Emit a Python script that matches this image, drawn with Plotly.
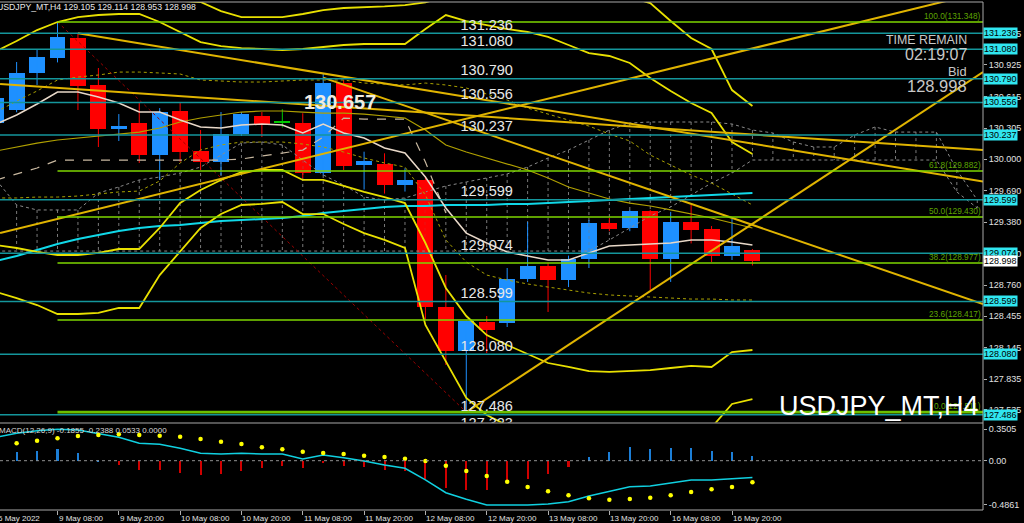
import plotly.graph_objects as go

# ---------------- data ----------------
bar_index = list(range(-3, 35))  # 0 = 9 May 08:00, H4 bars

open_ = [130.354, 130.482, 130.846, 130.993, 131.190, 130.728, 130.295, 130.354, 130.039, 130.472,
         130.079, 129.971, 130.246, 130.423, 130.357, 130.351, 129.859, 130.750, 129.938, 129.951,
         129.744, 129.794, 128.545, 128.112, 128.397, 128.385, 128.820, 128.948, 128.810, 129.017,
         129.371, 129.322, 129.489, 129.017, 129.381, 129.312, 129.046, 129.105]
high = [130.650, 130.954, 131.072, 131.348, 131.236, 130.895, 130.442, 130.551, 130.501, 130.551,
        130.285, 130.462, 130.462, 130.462, 130.490, 130.450, 130.836, 130.777, 130.072, 130.056,
        129.909, 129.830, 128.859, 128.410, 128.456, 128.928, 129.381, 128.980, 129.050, 129.400,
        129.420, 129.500, 129.500, 129.480, 129.550, 129.341, 129.410, 129.114]
low = [130.300, 130.460, 130.728, 130.950, 130.482, 130.118, 130.177, 129.961, 129.794, 129.971,
       129.892, 129.840, 130.226, 130.216, 130.310, 129.810, 129.840, 129.892, 129.700, 129.660,
       129.680, 128.417, 127.974, 127.511, 128.092, 128.348, 128.791, 128.496, 128.741, 128.928,
       129.290, 129.290, 128.712, 128.791, 129.170, 128.987, 129.007, 128.953]
close = [130.600, 130.849, 131.003, 131.200, 130.718, 130.295, 130.324, 130.039, 130.462, 130.069,
         129.971, 130.246, 130.442, 130.344, 130.357, 129.865, 130.750, 129.931, 129.980, 129.744,
         129.794, 128.548, 128.112, 128.407, 128.319, 128.820, 128.948, 128.810, 129.017, 129.371,
         129.312, 129.489, 129.017, 129.381, 129.302, 129.046, 129.145, 128.998]

bb_upper3 = [131.90, 131.85, 131.80, 131.78, 131.75, 131.70, 131.66, 131.62, 131.58, 131.555,
             131.544, 131.455, 131.396, 131.396, 131.396, 131.426, 131.465, 131.485, 131.490, 131.500,
             131.514, 131.540, 131.600, 131.640, 131.660, 131.670, 131.680, 131.680, 131.670, 131.650,
             131.620, 131.590, 131.534, 131.357, 131.190, 131.082, 130.678, 130.521]
bb_upper2 = [131.062, 131.160, 131.268, 131.347, 131.396, 131.416, 131.426, 131.426, 131.347, 131.249,
             131.150, 131.111, 131.091, 131.082, 131.072, 131.082, 131.101, 131.121, 131.131, 131.131,
             131.131, 131.278, 131.416, 131.357, 131.318, 131.278, 131.249, 131.200, 131.121, 131.042,
             131.013, 130.944, 130.796, 130.669, 130.551, 130.452, 130.167, 130.049]
bb_mid = [130.344, 130.433, 130.541, 130.659, 130.659, 130.610, 130.551, 130.462, 130.462, 130.383,
          130.315, 130.305, 130.334, 130.344, 130.334, 130.256, 130.344, 130.256, 130.206, 130.108,
          130.059, 129.823, 129.518, 129.272, 129.174, 129.086, 129.046, 129.007, 129.007, 129.076,
          129.145, 129.154, 129.164, 129.174, 129.204, 129.204, 129.184, 129.154]
bb_lower2 = [129.154, 129.125, 129.086, 129.056, 129.056, 129.076, 129.115, 129.115, 129.322, 129.567,
             129.695, 129.794, 129.872, 129.892, 129.892, 129.794, 129.794, 129.735, 129.676, 129.626,
             129.567, 129.174, 128.732, 128.456, 128.269, 128.171, 128.083, 127.994, 127.955, 127.915,
             127.906, 127.915, 127.925, 127.945, 127.965, 127.955, 128.102, 128.122]
bb_lower3 = [128.692, 128.633, 128.564, 128.476, 128.476, 128.486, 128.535, 128.535, 128.859, 129.086,
             129.322, 129.459, 129.548, 129.558, 129.577, 129.459, 129.459, 129.361, 129.272, 129.204,
             129.125, 128.368, 128.004, 127.650, 127.483, 127.380, 127.300, 127.270, 127.240, 127.220,
             127.200, 127.200, 127.210, 127.220, 127.260, 127.360, 127.591, 127.640]
ma_cyan = [128.997, 129.046, 129.105, 129.164, 129.213, 129.253, 129.292, 129.322, 129.341, 129.351,
           129.371, 129.390, 129.400, 129.410, 129.420, 129.440, 129.469, 129.489, 129.508, 129.528,
           129.538, 129.538, 129.548, 129.548, 129.548, 129.558, 129.558, 129.567, 129.577, 129.587,
           129.597, 129.607, 129.617, 129.626, 129.636, 129.646, 129.656, 129.666]
ma_olive = [130.079, 130.118, 130.157, 130.187, 130.206, 130.226, 130.246, 130.265, 130.305, 130.364,
            130.403, 130.433, 130.462, 130.472, 130.472, 130.462, 130.452, 130.452, 130.442, 130.423,
            130.403, 130.285, 130.138, 130.069, 130.010, 129.951, 129.892, 129.813, 129.725, 129.666,
            129.607, 129.567, 129.538, 129.499, 129.459, 129.420, 129.371, 129.322]
dot_upper = [130.462, 130.570, 130.669, 130.777, 130.806, 130.826, 130.855, 130.855, 130.846, 130.836,
             130.777, 130.767, 130.757, 130.757, 130.767, 130.777, 130.777, 130.777, 130.747, 130.738,
             130.728, 130.747, 130.728, 130.698, 130.639, 130.580, 130.501, 130.442, 130.383, 130.324,
             130.246, 130.177, 130.039, 129.941, 129.843, 129.764, 129.656, 129.548]
dot_lower = [129.617, 129.617, 129.626, 129.626, 129.636, 129.656, 129.676, 129.685, 129.784, 129.961,
             130.088, 130.138, 130.167, 130.167, 130.167, 130.147, 130.118, 130.069, 130.010, 129.961,
             129.921, 129.646, 129.204, 128.987, 128.859, 128.810, 128.771, 128.741, 128.712, 128.682,
             128.663, 128.653, 128.643, 128.633, 128.623, 128.623, 128.614, 128.614]
kijun = [129.794, 129.853, 129.912, 129.990, 129.990, 129.990, 129.990, 129.990, 129.990, 129.990,
         129.990, 129.990, 130.000, 130.030, 130.060, 130.088, 130.216, 130.403, 130.393, 130.393,
         130.393, 129.970, 129.469, None, None, None, None, None, None, None,
         None, None, None, None, None, None, None, None]

cloud_index = list(range(-3, 46))
span_a = [129.794, 129.548, 129.499, 129.499, 129.499, 129.666, 129.725, 129.794, 129.823, 129.862,
          129.921, 130.039, 130.157, 130.167, 130.138, 129.990, 129.843, 129.744, 129.626, 129.597,
          129.617, 129.676, 129.735, 129.774, 129.813, 129.853, 129.921, 130.010, 130.088, 130.187,
          130.285, 130.354, 130.364, 130.364, 130.364, 130.364, 130.344, 130.285, 130.256, 130.167,
          130.118, 130.118, 130.236, 130.315, 130.265, 130.265, 130.265, 129.892, 129.597]
span_b = [129.095, 129.095, 129.095, 129.095, 129.095, 129.095, 129.095, 129.095, 129.095, 129.095,
          129.095, 129.095, 129.095, 129.095, 129.095, 129.095, 129.095, 129.095, 129.095, 129.095,
          129.095, 129.095, 129.095, 129.095, 129.095, 129.095, 129.095, 129.095, 129.095, 129.095,
          129.204, 129.322, 129.440, 129.528, 129.646, 129.764, 129.862, 129.990, 129.990, 129.990,
          129.990, 129.990, 129.990, 129.990, 129.990, 129.990, 129.990, 129.676, 129.518]

macd_main = [0.260, 0.303, 0.332, 0.347, 0.340, 0.303, 0.259, 0.192, 0.181, 0.137,
             0.082, 0.074, 0.082, 0.074, 0.074, 0.019, 0.063, 0.033, -0.003, -0.048,
             -0.084, -0.213, -0.354, -0.427, -0.490, -0.490, -0.490, -0.479, -0.454, -0.390,
             -0.343, -0.288, -0.280, -0.243, -0.213, -0.213, -0.202, -0.186]
macd_signal = [0.165, 0.192, 0.221, 0.248, 0.273, 0.284, 0.292, 0.284, 0.277, 0.266,
               0.240, 0.210, 0.185, 0.148, 0.126, 0.100, 0.085, 0.074, 0.055, 0.041,
               0.022, -0.003, -0.055, -0.114, -0.169, -0.232, -0.291, -0.339, -0.383, -0.416,
               -0.431, -0.424, -0.409, -0.383, -0.346, -0.316, -0.291, -0.239]
macd_hist = [0.090, 0.107, 0.110, 0.130, 0.089, 0.015, -0.037, -0.095, -0.095, -0.128,
             -0.158, -0.140, -0.103, -0.077, -0.055, -0.077, -0.022, -0.048, -0.059, -0.092,
             -0.103, -0.195, -0.295, -0.324, -0.324, -0.230, -0.195, -0.140, -0.059, 0.044,
             0.107, 0.155, 0.140, 0.148, 0.148, 0.118, 0.100, 0.060]

h_levels = [131.236, 131.080, 130.790, 130.556, 130.237, 129.599, 129.074, 128.599, 128.080, 127.486, 127.323]
fib_pcts = ["100.0", "61.8", "50.0", "38.2", "23.6", "0.0"]
fib_levels = [131.348, 129.882, 129.430, 128.977, 128.417, 127.511]
fib_bars = [0, 20]

tl1_x, tl1_y = [1, 45.28], [131.236, 129.780]
tl2_x, tl2_y = [-2.81, 45.28], [130.737, 130.088]
tl3_x, tl3_y = [20, 45.28], [127.511, 130.855]
tl4_x, tl4_y = [-2.81, 45.28], [129.272, 131.643]
tl5_x, tl5_y = [13, 45.28], [130.800, 128.574]

price_ticks = [131.235, 130.925, 130.615, 130.305, 130.000, 129.690, 129.380, 129.070,
               128.760, 128.455, 128.145, 127.835, 127.535]
macd_ticks = [0.3505, 0.0, -0.4861]
macd_tick_text = ["0.3505", "0.00", "-0.4861"]
date_ticks = [-3, 0, 3, 6, 9, 12, 15, 18, 21, 24, 27, 30, 33]
date_labels = ["6 May 2022", "9 May 08:00", "9 May 20:00", "10 May 08:00", "10 May 20:00",
               "11 May 08:00", "11 May 20:00", "12 May 08:00", "12 May 20:00", "13 May 08:00",
               "13 May 20:00", "16 May 08:00", "16 May 20:00"]
bid_price = 128.998
header_text = "USDJPY_MT,H4 129.105 129.114 128.953 128.998"
macd_text = "MACD(12,26,9) -0.1855 -0.2388 0.0533 0.0000"
peak_label = "130.657"
time_remain = "02:19:07"

# ---------------- layout constants ----------------
X0, X1 = -2.813, 45.28
Y0, Y1 = 127.409, 131.544
M0, M1 = -0.5454, 0.4115
PW, PH = 983.0, 508.0
FONT = "Liberation Sans, Arial, sans-serif"


def pxx(p):
    return p / PW


def pxy(p):
    return (510.0 - p) / PH


BULL, BEAR, DOJI = "#1e90ff", "#ff0000", "#00c800"
YEL, GOLD, TEAL, FIBG = "#e8e000", "#e0b400", "#14969c", "#7ed600"

fig = go.Figure()

# Ichimoku-like cloud (dotted hatching)
vx, vy = [], []
for k, a, b in zip(cloud_index, span_a, span_b):
    vx += [k, k, None]
    vy += [a, b, None]
fig.add_trace(go.Scatter(x=vx, y=vy, mode="lines", line=dict(color="#7a7a7a", width=1, dash="dot"),
                         hoverinfo="skip"))
for s in (span_a, span_b):
    fig.add_trace(go.Scatter(x=cloud_index, y=s, mode="lines",
                             line=dict(color="#8a8a8a", width=1, dash="dot"), hoverinfo="skip"))

# candles
colors, bases, heights = [], [], []
for o, c in zip(open_, close):
    colors.append(BULL if c > o else (BEAR if c < o else DOJI))
    bases.append(min(o, c))
    heights.append(max(abs(c - o), 0.012))
fig.add_trace(go.Bar(x=bar_index, y=heights, base=bases, width=0.78, marker=dict(color=colors, line=dict(width=0)),
                     hoverinfo="skip"))
for col in (BULL, BEAR, DOJI):
    wx, wy = [], []
    for k, h, l, cc in zip(bar_index, high, low, colors):
        if cc == col:
            wx += [k, k, None]
            wy += [l, h, None]
    fig.add_trace(go.Scatter(x=wx, y=wy, mode="lines", line=dict(color=col, width=1), hoverinfo="skip"))

# fib diagonal
fig.add_trace(go.Scatter(x=fib_bars, y=[fib_levels[0], fib_levels[-1]], mode="lines",
                         line=dict(color="#9a0000", width=1, dash="dot"), hoverinfo="skip"))

# indicator lines
fig.add_trace(go.Scatter(x=bar_index, y=dot_upper, mode="lines", line=dict(color="#a8a000", width=1, dash="dot")))
fig.add_trace(go.Scatter(x=bar_index, y=dot_lower, mode="lines", line=dict(color="#a8a000", width=1, dash="dot")))
fig.add_trace(go.Scatter(x=bar_index, y=kijun, mode="lines", line=dict(color="#c8b8a0", width=1.2, dash="dash")))
fig.add_trace(go.Scatter(x=bar_index, y=ma_olive, mode="lines", line=dict(color="#b0a000", width=1.2)))
fig.add_trace(go.Scatter(x=bar_index, y=ma_cyan, mode="lines", line=dict(color="#10d8e8", width=2)))
fig.add_trace(go.Scatter(x=bar_index, y=bb_mid, mode="lines", line=dict(color="#e8d8c8", width=1.5)))
for s in (bb_upper3, bb_upper2, bb_lower2, bb_lower3):
    fig.add_trace(go.Scatter(x=bar_index, y=s, mode="lines", line=dict(color=YEL, width=1.8)))

# trend lines
for tx, ty in ((tl1_x, tl1_y), (tl2_x, tl2_y), (tl3_x, tl3_y), (tl4_x, tl4_y), (tl5_x, tl5_y)):
    fig.add_trace(go.Scatter(x=tx, y=ty, mode="lines", line=dict(color=GOLD, width=2)))

# horizontal lines
hx, hy = [], []
for p in h_levels:
    hx += [X0, X1, None]
    hy += [p, p, None]
fig.add_trace(go.Scatter(x=hx, y=hy, mode="lines", line=dict(color=TEAL, width=1.5)))
fx, fy = [], []
for p in fib_levels[:-1]:
    fx += [fib_bars[0], X1, None]
    fy += [p, p, None]
fig.add_trace(go.Scatter(x=fx, y=fy, mode="lines", line=dict(color=FIBG, width=1.6)))
fig.add_trace(go.Scatter(x=[fib_bars[0], X1], y=[fib_levels[-1]] * 2, mode="lines",
                         line=dict(color="#6cc000", width=2.6)))

# labels of horizontal lines
fig.add_trace(go.Scatter(x=[21.0] * len(h_levels), y=h_levels, mode="text",
                         text=[f"{p:.3f}" for p in h_levels], textposition="top center",
                         textfont=dict(family=FONT, size=14.5, color="#e8e8e8"), cliponaxis=True))

# MACD
fig.add_trace(go.Bar(x=bar_index, y=macd_hist, width=0.1, xaxis="x2", yaxis="y2",
                     marker=dict(color=["#1c7ed6" if v >= 0 else "#d00000" for v in macd_hist], line=dict(width=0))))
fig.add_trace(go.Scatter(x=bar_index, y=macd_main, mode="lines", xaxis="x2", yaxis="y2",
                         line=dict(color="#10d0e0", width=1.5)))
fig.add_trace(go.Scatter(x=bar_index, y=macd_signal, mode="markers", xaxis="x2", yaxis="y2",
                         marker=dict(color="#ffff00", size=4.5)))

ann = []
# right-axis boxes
for p in h_levels[:-1]:
    ann.append(dict(xref="paper", yref="y", x=1.0005, y=p, xanchor="left", yanchor="middle",
                    text=f"{p:.3f}", showarrow=False, bgcolor="#30e6f0", borderpad=0,
                    font=dict(family=FONT, size=9, color="#000000")))
ann.append(dict(xref="paper", yref="y", x=1.0005, y=bid_price, xanchor="left", yanchor="middle",
                text=f"{bid_price:.3f}", showarrow=False, bgcolor="#ffffff", borderpad=0,
                font=dict(family=FONT, size=9, color="#000000")))
# fib labels
for pct, p in zip(fib_pcts, fib_levels):
    ann.append(dict(xref="paper", yref="y", x=0.999, y=p, xanchor="right", yanchor="bottom",
                    text=f"{pct}({p:.3f})", showarrow=False, borderpad=0,
                    font=dict(family=FONT, size=8.3, color="#5ea400")))
# texts
ann += [
    dict(xref="paper", yref="paper", x=pxx(-5), y=pxy(7), xanchor="left", yanchor="middle",
         text=header_text, showarrow=False, font=dict(family=FONT, size=8.7, color="#e8e8e8")),
    dict(xref="paper", yref="paper", x=pxx(969), y=pxy(40), xanchor="right", yanchor="middle",
         text="TIME REMAIN", showarrow=False, font=dict(family=FONT, size=12.4, color="#c8c8c8")),
    dict(xref="paper", yref="paper", x=pxx(969), y=pxy(54.5), xanchor="right", yanchor="middle",
         text=time_remain, showarrow=False, font=dict(family=FONT, size=16, color="#c8c8c8")),
    dict(xref="paper", yref="paper", x=pxx(969), y=pxy(72), xanchor="right", yanchor="middle",
         text="Bid", showarrow=False, font=dict(family=FONT, size=12.8, color="#c8c8c8")),
    dict(xref="paper", yref="paper", x=pxx(969), y=pxy(86), xanchor="right", yanchor="middle",
         text=f"{bid_price:.3f}", showarrow=False, font=dict(family=FONT, size=16.5, color="#c8c8c8")),
    dict(xref="paper", yref="paper", x=pxx(340), y=pxy(102), xanchor="center", yanchor="middle",
         text=f"<b>{peak_label}</b>", showarrow=False, font=dict(family=FONT, size=20, color="#f0ece0")),
    dict(xref="paper", yref="paper", x=pxx(981), y=pxy(406), xanchor="right", yanchor="middle",
         text="USDJPY_MT,H4", showarrow=False, font=dict(family=FONT, size=27, color="#ffffff")),
    dict(xref="paper", yref="paper", x=pxx(-3), y=pxy(430), xanchor="left", yanchor="middle",
         text=macd_text, showarrow=False, font=dict(family=FONT, size=8, color="#d8d8d8")),
]
# date labels
for k, lab in zip(date_ticks, date_labels):
    if k < X0:
        ann.append(dict(xref="paper", yref="paper", x=(k - X0) / (X1 - X0), y=pxy(518), xanchor="left",
                        yanchor="middle", text=lab, showarrow=False,
                        font=dict(family=FONT, size=8, color="#e0e0e0")))
    else:
        ann.append(dict(xref="x2", yref="paper", x=k, y=pxy(518), xanchor="left", xshift=-1,
                        yanchor="middle", text=lab, showarrow=False,
                        font=dict(family=FONT, size=8, color="#e0e0e0")))

frame = dict(color="#a8a8a8", width=1)
shapes = [
    dict(type="line", xref="paper", yref="paper", x0=0, x1=1, y0=1, y1=1, line=frame),
    dict(type="line", xref="paper", yref="paper", x0=1, x1=1, y0=0, y1=1, line=frame),
    dict(type="line", xref="paper", yref="paper", x0=0, x1=1, y0=pxy(423), y1=pxy(423), line=frame),
    dict(type="line", xref="paper", yref="paper", x0=0, x1=1, y0=0, y1=0, line=frame),
    dict(type="line", xref="paper", yref="y2", x0=0, x1=1, y0=0, y1=0,
         line=dict(color="#909090", width=1, dash="dot")),
]

fig.update_layout(
    width=1024, height=523,
    margin=dict(l=0, r=41, t=2, b=13, pad=0),
    paper_bgcolor="#000000", plot_bgcolor="#000000",
    showlegend=False, bargap=0, barmode="overlay",
    font=dict(family=FONT, color="#e0e0e0", size=10),
    xaxis=dict(domain=[0, 1], range=[X0, X1], anchor="y", showgrid=False, zeroline=False,
               showticklabels=False, ticks="", showline=False),
    yaxis=dict(domain=[pxy(422.5), 1], range=[Y0, Y1], anchor="x", side="right", showgrid=False,
               zeroline=False, tickvals=price_ticks, ticktext=[f"{t:.3f}" for t in price_ticks],
               ticks="outside", ticklen=3, tickcolor="#b0b0b0", showline=False,
               tickfont=dict(family=FONT, size=9, color="#e0e0e0")),
    xaxis2=dict(domain=[0, 1], range=[X0, X1], anchor="y2", showgrid=False, zeroline=False,
                showticklabels=False, ticks="outside", ticklen=4, tickcolor="#b0b0b0",
                tickvals=date_ticks[1:], showline=False),
    yaxis2=dict(domain=[0, pxy(423.5)], range=[M0, M1], anchor="x2", side="right", showgrid=False,
                zeroline=False, tickvals=macd_ticks, ticktext=macd_tick_text, ticks="outside",
                ticklen=3, tickcolor="#b0b0b0", showline=False,
                tickfont=dict(family=FONT, size=9, color="#e0e0e0")),
    annotations=ann,
    shapes=shapes,
)

fig.write_html("out.html", config={"displayModeBar": False},
               post_script="document.body.style.margin='0';")
